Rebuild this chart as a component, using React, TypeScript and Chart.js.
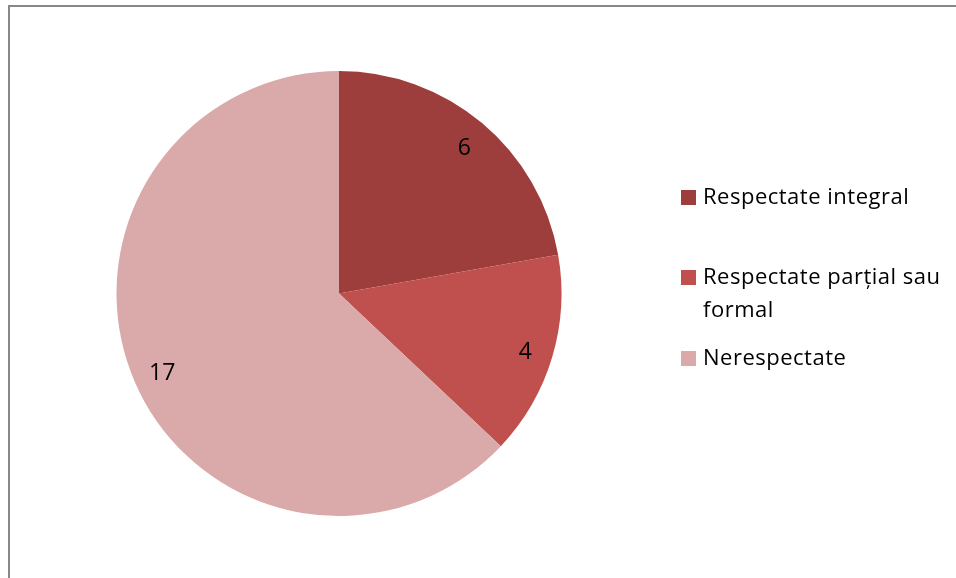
import React, { useEffect, useRef } from "react";
import { Chart, registerables } from "chart.js";

Chart.register(...registerables);

const categories = ["Respectate integral", "Respectate parțial sau formal", "Nerespectate"];
const values = [6, 4, 17];
const colors = ["#9E3E3C", "#C0504D", "#DAAAAA"];

const FONT = "'Open Sans', sans-serif";

const valueLabels = {
  id: "valueLabels",
  afterDatasetsDraw(chart: any) {
    const ctx = chart.ctx;
    const meta = chart.getDatasetMeta(0);
    ctx.save();
    ctx.fillStyle = "#000";
    ctx.font = `23px ${FONT}`;
    ctx.textAlign = "center";
    ctx.textBaseline = "middle";
    meta.data.forEach((arc: any, i: number) => {
      const p = arc.getProps(["x", "y", "startAngle", "endAngle", "outerRadius"], true);
      const mid = (p.startAngle + p.endAngle) / 2;
      const r = p.outerRadius * 0.87;
      ctx.fillText(String(values[i]), p.x + Math.cos(mid) * r + 1, p.y + Math.sin(mid) * r + 3);
    });
    ctx.restore();
  },
};

export default function App() {
  const ref = useRef<HTMLCanvasElement>(null);
  useEffect(() => {
    const chart = new Chart(ref.current!, {
      type: "pie",
      data: {
        labels: categories,
        datasets: [{ data: values, backgroundColor: colors, borderWidth: 0 }],
      },
      options: {
        animation: false,
        responsive: false,
        layout: { padding: { left: 116.5, right: 394.5, top: 71, bottom: 62 } },
        plugins: { legend: { display: false }, tooltip: { enabled: false } },
      },
      plugins: [valueLabels],
    });
    return () => chart.destroy();
  }, []);

  const legendTops = [179, 259, 340];
  return (
    <div style={{ position: "fixed", left: 0, top: 0, width: 956, height: 578, background: "#fff", overflow: "hidden" }}>
      <div
        style={{
          position: "absolute",
          left: 8,
          top: 5,
          width: 1000,
          height: 700,
          borderLeft: "2px solid #888",
          borderTop: "2px solid #888",
        }}
      />
      <canvas ref={ref} width={956} height={578} style={{ position: "absolute", left: 0, top: 0 }} />
      {categories.map((c, i) => (
        <div
          key={c}
          style={{
            position: "absolute",
            left: 681,
            top: legendTops[i],
            width: 272,
            display: "flex",
            alignItems: "flex-start",
            fontFamily: FONT,
            fontSize: 22,
            letterSpacing: "0.5px",
            lineHeight: "33px",
            color: "#000",
          }}
        >
          <span style={{ width: 15, height: 15, background: colors[i], marginTop: 11, flex: "none" }} />
          <span style={{ marginLeft: 7, width: 250 }}>{c}</span>
        </div>
      ))}
    </div>
  );
}
